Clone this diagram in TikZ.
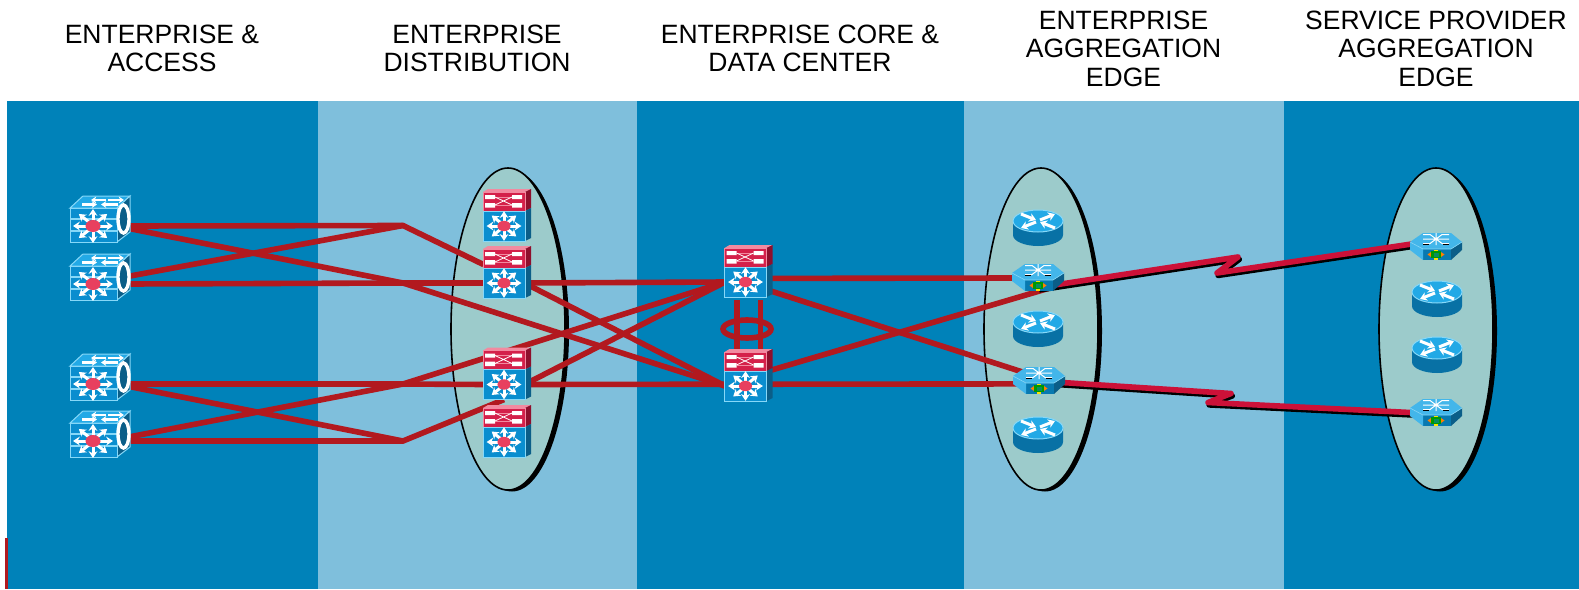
\documentclass[tikz,border=0pt]{standalone}
\usepackage{fontspec}
\setmainfont{Liberation Sans}
\usetikzlibrary{calc,arrows.meta}
\usetikzlibrary{backgrounds,positioning}

\definecolor{banddark}{HTML}{0082B9}
\definecolor{bandlight}{HTML}{7FBFDC}
\definecolor{ovalfill}{HTML}{9CCBCB}
\definecolor{linkred}{HTML}{B2191F}
\definecolor{wanred}{HTML}{CC1138}
\definecolor{devblue}{HTML}{0A8ECF}
\definecolor{devtop}{HTML}{22A9E6}
\definecolor{devside}{HTML}{0B5E88}
\definecolor{devline}{HTML}{86D8F8}
\definecolor{stackred}{HTML}{D4204A}
\definecolor{stackdark}{HTML}{8E0F2C}
\definecolor{stackline}{HTML}{F28AA0}
\definecolor{hubred}{HTML}{E8405F}

\tikzset{
	title/.style={font=\fontsize{13.25}{14.2}\selectfont, align=center},
	oval/.style={draw=black, line width=.8pt, fill=ovalfill},
	link/.style={draw=linkred, line width=2.8pt},
	wan/.style={draw=wanred, line width=2.8pt, line join=round,
		preaction={draw=black, line width=2.8pt, line join=round, transform canvas={xshift=.6pt,yshift=-1.2pt}}},
	devbox/.style={inner sep=0pt, minimum width=#1, minimum height=18pt},
	devbox/.default=20pt,
	wht/.style={draw=white, line width=1.5pt, -{Stealth[length=3.4pt,width=4.4pt]}},
	whtthin/.style={draw=white, line width=1.2pt, -{Stealth[length=2.6pt,width=3.4pt]}},
	%hub with eight arrows, used by both switch drawings
	pics/hub/.style={code={
		\foreach \a in {0,45,...,315}
			\draw[wht] (\a:5) -- (\a:20 and 17);
		\fill[hubred] (0,0) ellipse (7.5 and 6);
	}},
	%switch with the ring on its side
	pics/accswitch/.style={code={
		\draw[devline, fill=devtop, line width=.5pt] (-30,-18) -- (-17,-30) -- (30,-30) -- (17,-18) -- cycle;
		\draw[devline, fill=devside, line width=.5pt] (17,-18) -- (30,-30) -- (30,6) -- (17,16) -- cycle;
		\draw[devline, fill=devblue, line width=.5pt] (-30,-18) rectangle (17,16);
		\draw[devline, line width=.6pt] (-30,-7) -- (17,-7) (-30,5) -- (17,5);
		\draw[whtthin] (6,-26) -- (-9,-26);
		\draw[whtthin] (8,-26) -- (24,-26);
		\draw[whtthin] (-18,-21.5) -- (-3,-21.5);
		\draw[whtthin] (18,-21.5) -- (1,-21.5);
		\draw[white, fill=devside, line width=1.7pt] (23.5,-7) ellipse (5.5 and 14);
		\pic at (-7,0) {hub};
	}},
	%stack of a red box on a blue box
	pics/stackswitch/.style={code={
		\fill[stackline] (-21,-34) -- (-16,-37) -- (27,-37) -- (21,-34) -- cycle;
		\fill[stackdark] (21,-34) -- (27,-37) -- (27,-18) -- (21,-15) -- cycle;
		\fill[devside] (21,-15) -- (27,-18) -- (27,12) -- (21,15) -- cycle;
		\draw[stackline, fill=stackred, line width=.5pt] (-21,-34) rectangle (21,-15);
		\draw[devline, fill=devblue, line width=.5pt] (-21,-15) rectangle (21,15);
		\fill[white] (-19,-31) rectangle (-9,-27) (8,-31) rectangle (18,-27)
			(-19,-23) rectangle (-9,-18.5) (8,-23) rectangle (18,-18.5);
		\draw[stackline, line width=.4pt] (-9,-29) -- (8,-29) (-9,-21) -- (8,-21);
		\draw[white, line width=.4pt] (-9,-29) -- (8,-21) (-9,-21) -- (8,-29);
		\pic[scale=.87] {hub};
	}},
	%round router
	pics/router/.style={code={
		\fill[devblue!80!black] (-25,0) -- (-25,14) arc (180:0:25 and 11) -- (25,0) -- cycle;
		\draw[devline, fill=devtop, line width=.5pt] (0,0) ellipse (25 and 11);
		\draw[wht] (-17,-7) -- (-2,-1);
		\draw[wht] (2,-1) -- (17,-7);
		\draw[wht] (-2,1) -- (-17,7);
		\draw[wht] (17,7) -- (2,1);
	}},
	%flat hexagon with the star and the small chip
	pics/edgebox/.style={code={
		\fill[devside] (15,2) -- (26,-5) -- (26,3) -- (15,13) -- cycle;
		\fill[devblue!85!black] (-13,2) rectangle (15,13);
		\fill[devtop!85!white] (-26,-5) -- (-13,2) -- (-13,13) -- (-26,3) -- cycle;
		\fill[devtop!85!white] (-26,-5) -- (-13,-14) -- (15,-14) -- (26,-5) -- (15,2) -- (-13,2) -- cycle;
		\draw[devline, line width=.3pt] (-26,-5) -- (-13,2) -- (15,2) -- (26,-5);
		\draw[white, line width=.5pt] (-13,-8) -- (13,-8) (0,-14) -- (0,-2)
			(-13,-12.5) -- (-6,-12.5) -- (6,-3.5) -- (13,-3.5)
			(-13,-3.5) -- (-6,-3.5) -- (6,-12.5) -- (13,-12.5);
		\draw[black, line width=.3pt] (-13,-2.6) -- (-7,-2.6) (7,-2.6) -- (13,-2.6);
		\fill[orange] (-8.5,7.5) -- (-5,5) -- (-5,10) -- cycle (8.5,7.5) -- (5,5) -- (5,10) -- cycle;
		\fill[yellow!85!orange] (-2,2.5) rectangle (2,12.5);
		\fill[green!60!black] (-5,3.8) rectangle (5,11.2);
		\fill[devside!70!green] (-2.5,5.5) rectangle (2.5,9.5);
	}},
}

\begin{document}
\begin{tikzpicture}[x=.5pt,y=-.5pt]
	\useasboundingbox (0,0) rectangle (1579,589);

	%bands
	\fill[banddark] (7,101) rectangle (318,589);
	\fill[bandlight] (318,101) rectangle (637,589);
	\fill[banddark] (637,101) rectangle (964,589);
	\fill[bandlight] (964,101) rectangle (1284,589);
	\fill[banddark] (1284,101) rectangle (1579,589);
	\draw[linkred, line width=1.5pt] (6.5,538) -- (6.5,589);

	%titles
	\node[title] (tit1) at (162,48.5) {ENTERPRISE \&\\ACCESS};
	\node[title] (tit2) at (477,48.5) {ENTERPRISE\\DISTRIBUTION};
	\node[title] (tit3) at (800,48.5) {ENTERPRISE CORE \&\\DATA CENTER};
	\node[title] (tit4) at (1123.5,48.5) {ENTERPRISE\\AGGREGATION\\EDGE};
	\node[title] (tit5) at (1436,48.5) {SERVICE PROVIDER\\AGGREGATION\\EDGE};

	%ovals with shadow
	\foreach \x in {508,1041,1436}{
		\fill[black] (\x+4,331) ellipse (57 and 160.5);
		\draw[oval] (\x,329) ellipse (57 and 161);
	}

	%device places
	\node[devbox=29pt] (acc1) at (100,226) {};
	\node[devbox=29pt] (acc2) at (100,284) {};
	\node[devbox=29pt] (acc3) at (100,384) {};
	\node[devbox=29pt] (acc4) at (100,441) {};
	\node[devbox] (dist1) at (504,226) {};
	\node[devbox] (dist2) at (504,283) {};
	\node[devbox] (dist3) at (504,384.5) {};
	\node[devbox] (dist4) at (504,442) {};
	\node[devbox] (core1) at (745.5,282) {};
	\node[devbox] (core2) at (745.5,386) {};
	\node[devbox] (edge1) at (1038,278) {};
	\node[devbox] (edge2) at (1039,381) {};
	\node[devbox] (prov1) at (1436,247) {};
	\node[devbox] (prov2) at (1436,413) {};

	%bend points
	\coordinate (bend1) at (403,225.5);
	\coordinate (bend2) at (403,283);
	\coordinate (bend3) at (403,384);
	\coordinate (bend4) at (403,441);
	\coordinate (zig1) at (1238,257);
	\coordinate (zig2) at (1217,273);
	\coordinate (zig3) at (1231,393.5);
	\coordinate (zig4) at (1208,402.5);

	%access to distribution
	\draw[link] (acc1.east) -- (bend1) -- (dist2.north west);
	\draw[link] (acc2.15) -- (bend1);
	\draw[link] (acc1.-5) -- (bend2) -- (core2.west);
	\draw[link] (acc2.east) -- (bend2) -- (dist2.west);
	\draw[link] (acc3.east) -- (bend3) -- (dist3.west);
	\draw[link] (acc3.-5) -- (bend4);
	\draw[link] (acc4.8) -- (bend3) -- (core1.west);
	\draw[link] (acc4.east) -- (bend4) -- ($(dist4.north)+(0,-24)$);

	%distribution to core
	\draw[link] (dist2.east) -- (core1.west);
	\draw[link] (dist2.east) -- (core2.west);
	\draw[link] (dist3.east) -- (core2.175);
	\draw[link] (dist3.east) -- (core1.west);

	%core pair and ring
	\draw[link] ($(core1.south)+(-8.5,0)$) -- ($(core2.north)+(-8.5,0)$);
	\draw[link] ($(core1.south)+(15,0)$) -- ($(core2.north)+(15,0)$);
	\draw[link] (747,329) ellipse (24 and 9);

	%core to edge
	\draw[link] (core1.10) -- (edge1.west);
	\draw[link] (core1.-20) -- (edge2.-8);
	\draw[link] (core2.5) -- (edge2.-8);
	\draw[link] (core2.35) -- (edge1.-20);

	%wan links
	\draw[wan] ($(edge1.center)+(0,9.5)$) -- (zig1) -- (zig2) -- (prov1.170);
	\draw[wan] (edge2.center) -- (zig3) -- (zig4) -- (prov2.-5);

	%devices on top
	\foreach \n in {acc1,acc2,acc3,acc4}
		\pic at (\n) {accswitch};
	\foreach \n in {dist1,dist2,dist3,dist4,core1,core2}
		\pic at (\n) {stackswitch};
	\foreach \n in {edge1,edge2,prov1,prov2}
		\pic at (\n) {edgebox};
	\foreach \x/\y in {1038/221,1038/322,1038/428,1437/292,1437/348}
		\pic at (\x,\y) {router};
\end{tikzpicture}
\end{document}
